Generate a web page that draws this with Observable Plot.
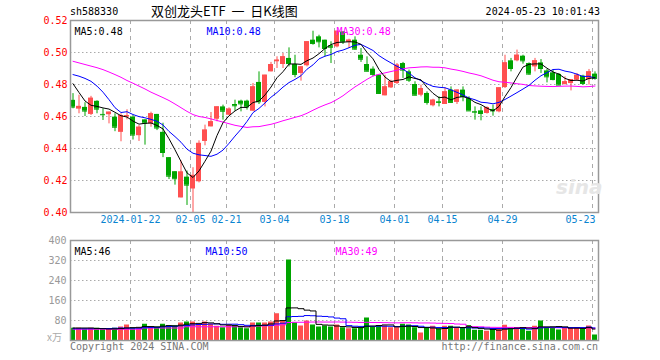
<!DOCTYPE html>
<html><head><meta charset="utf-8">
<script src="https://cdn.jsdelivr.net/npm/d3@7"></script>
<script src="https://cdn.jsdelivr.net/npm/@observablehq/plot@0.6"></script>
<style>
body{margin:0;background:#fff;}
#wrap{position:relative;width:660px;height:360px;overflow:hidden;font-family:"DejaVu Sans Mono",monospace;background:#fff;}
#wrap svg{position:absolute;left:0;}
.t{position:absolute;white-space:pre;font-size:10px;line-height:12px;}
</style></head><body>
<div id="wrap">
  <div class="t" style="left:70px;top:6px;color:#000;">sh588330</div>
  <div class="t" style="left:151px;top:3px;font-size:13px;line-height:16px;font-family:'Noto Sans CJK SC',sans-serif;color:#000;">双创龙头ETF  一  日K线图</div>
  <div class="t" style="right:60px;top:6px;color:#000;">2024-05-23 10:01:43</div>
  <div class="t" style="left:70px;top:341px;color:#777;">Copyright 2024 SINA.COM</div>
  <div class="t" style="right:62px;top:341px;color:#777;">http://finance.sina.com.cn</div>
  <div class="t" style="left:47px;top:331px;color:#aaa;font-family:'Noto Sans CJK SC',sans-serif;">x万</div>
  <div class="t" style="left:556px;top:176px;font-size:20px;line-height:22px;font-style:italic;font-weight:bold;color:#e6e6e6;font-family:'DejaVu Sans',sans-serif;">sina</div>
</div>
<script>
// ---- data ----
const opens = [.4701,.4646,.4657,.4613,.4695,.4613,.4611,.4596,.4501,.4596,
.4596,.4480,.4579,.4554,.4613,.4501,.4343,.4255,.4091,.4221,
.4147,.4192,.4444,.4535,.4583,.4660,.4608,.4675,.4696,.4696,
.4633,.4813,.4688,.4879,.4942,.4925,.4963,.4925,.4869,.4917,
.5077,.5098,.5077,.5042,.5035,.5129,.5063,.5077,.4983,.4925,
.4896,.4858,.4729,.4779,.4806,.4931,.4879,.4800,.4733,.4744,
.4667,.4692,.4675,.4765,.4688,.4765,.4713,.4631,.4635,.4619,
.4644,.4629,.4781,.4948,.4948,.4977,.4931,.4910,.4935,.4885,
.4873,.4863,.4800,.4806,.4827,.4852,.4831,.4865];
const highs = [.4743,.4733,.4686,.4726,.4698,.4648,.4627,.4617,.4617,.4642,
.4606,.4543,.4579,.4627,.4613,.4558,.4343,.4255,.4322,.4259,
.4280,.4448,.4546,.4625,.4660,.4671,.4654,.4702,.4702,.4702,
.4806,.4879,.4858,.4938,.4973,.4994,.5029,.4983,.4910,.5067,
.5133,.5108,.5077,.5067,.5133,.5129,.5083,.5098,.5025,.4973,
.4910,.4858,.4858,.4827,.4931,.4938,.4890,.4817,.4796,.4754,
.4708,.4723,.4779,.4785,.4765,.4785,.4723,.4660,.4660,.4660,
.4671,.4779,.4983,.4963,.5015,.4983,.4935,.4963,.4956,.4894,
.4890,.4869,.4848,.4831,.4869,.4858,.4894,.4879];
const lows = [.4648,.4617,.4600,.4606,.4617,.4575,.4554,.4505,.4442,.4579,
.4453,.4444,.4421,.4533,.4512,.4343,.4206,.4171,.4091,.4044,
.4000,.4185,.4417,.4535,.4567,.4577,.4604,.4633,.4629,.4640,
.4633,.4675,.4660,.4879,.4900,.4900,.4910,.4842,.4821,.4910,
.5046,.5029,.4973,.4931,.5029,.5050,.5025,.5015,.4938,.4879,
.4848,.4738,.4729,.4775,.4800,.4838,.4813,.4729,.4723,.4671,
.4660,.4660,.4675,.4681,.4675,.4692,.4635,.4577,.4573,.4615,
.4602,.4623,.4775,.4879,.4942,.4927,.4858,.4879,.4869,.4810,
.4823,.4796,.4796,.4760,.4823,.4796,.4796,.4827];
const closes = [.4659,.4663,.4634,.4714,.4646,.4611,.4627,.4533,.4606,.4606,
.4484,.4533,.4558,.4617,.4528,.4375,.4227,.4211,.4253,.4171,
.4232,.4432,.4515,.4567,.4660,.4633,.4646,.4667,.4679,.4660,
.4785,.4692,.4858,.4925,.4952,.4973,.4931,.4863,.4910,.5067,
.5056,.5067,.5025,.5033,.5133,.5067,.5077,.5021,.4958,.4883,
.4863,.4744,.4785,.4817,.4921,.4890,.4827,.4733,.4775,.4688,
.4702,.4688,.4754,.4688,.4765,.4725,.4635,.4627,.4619,.4656,
.4635,.4779,.4935,.4900,.4983,.4948,.4865,.4948,.4900,.4848,
.4831,.4796,.4817,.4831,.4858,.4806,.4879,.4838];
const volumes = [49,49,46,49,49,43,43,49,54,62,
49,49,65,54,54,65,59,59,70,74,
74,65,74,65,57,51,62,61,51,47,
70,70,70,74,107,78,322,71,58,78,
62,54,58,54,62,51,47,47,51,90,
54,58,58,51,51,65,62,51,30,50,
57,46,57,57,50,50,60,41,41,37,
42,46,61,50,50,50,37,57,78,51,
51,42,51,51,51,47,58,22];
// moving-average values before enough history exists
const ma5Head  = [.4805,.4750,.4697,.4670];
const ma10Head = [.4862,.4852,.4838,.4820,.4790,.4752,.4705,.4655,.4625];
const ma30Head = [.4945,.4935,.4925,.4915,.4905,.4893,.4878,.4862,.4845,.4825,
.4808,.4790,.4772,.4752,.4735,.4718,.4700,.4678,.4655,.4632,
.4612,.4600,.4594,.4585,.4575,.4565,.4555,.4545,.4538];
const vma5Head  = [50,50,50,50];
const vma10Head = [47,47,47,47,48,48,48,49,50];
const vma30Head = [45,45,45,45,45,45,45,45,45,45,45,45,50,50,50,50,50,50,50,55,55,55,55,55,55,55,55,55,55];
const tickIndex  = [10,20,26,34,44,54,62,72,87];
const tickLabels = ["2024-01-22","02-05","02-21","03-04","03-18","04-01","04-15","04-29","05-23"];
const priceTicks = [0.40,0.42,0.44,0.46,0.48,0.50,0.52];
const volTicks = [80,160,240,320,400];

// ---- derived ----
function movingAvg(vals, k, head){
  return vals.map((v,i)=> i < k-1 ? head[i] : d3.mean(vals.slice(i-k+1, i+1)));
}
const ma5 = movingAvg(closes,5,ma5Head), ma10 = movingAvg(closes,10,ma10Head), ma30 = movingAvg(closes,30,ma30Head);
const vma5 = movingAvg(volumes,5,vma5Head), vma10 = movingAvg(volumes,10,vma10Head), vma30 = movingAvg(volumes,30,vma30Head);
const RED="#ff5050", GREEN="#00a400", BLUE="#0000ff", MAG="#ff00ff";
const data = closes.map((c,i)=>({i, o:opens[i], h:highs[i], l:lows[i], c, v:volumes[i],
  col: c>=opens[i]?RED:GREEN, ma5:ma5[i], ma10:ma10[i], ma30:ma30[i], vma5:vma5[i], vma10:vma10[i], vma30:vma30[i]}));
const ticks = tickIndex.map((i,k)=>({i, label:tickLabels[k]}));
const N = closes.length;
const cx = d => d.i + 5/12;
const last = data[N-1];
const FONT = "DejaVu Sans Mono";

const price = Plot.plot({
  width:660, height:230, marginLeft:70, marginRight:62, marginTop:20, marginBottom:18,
  style:{fontFamily:FONT, fontSize:"10px", background:"transparent"},
  x:{type:"linear", domain:[0,N], axis:null},
  y:{domain:[0.40,0.52], axis:null},
  color:{type:"identity"},
  marks:[
    Plot.ruleY(priceTicks.slice(1,-1), {stroke:"#aaa", strokeDasharray:"1.5,2.5"}),
    Plot.ruleX(tickIndex, {stroke:"#aaa", strokeDasharray:"4,4"}),
    Plot.ruleX(data, {x:cx, y1:"l", y2:"h", stroke:"col"}),
    Plot.rectY(data, {x1:"i", x2:d=>d.i+5/6, y1:"o", y2:"c", fill:"col"}),
    Plot.ruleY(data, {x1:"i", x2:d=>d.i+5/6, y:"c", stroke:"col"}),
    Plot.line(data, {x:cx, y:"ma30", stroke:MAG, strokeWidth:1}),
    Plot.line(data, {x:cx, y:"ma10", stroke:BLUE, strokeWidth:1}),
    Plot.line(data, {x:cx, y:"ma5", stroke:"#000", strokeWidth:1}),
    Plot.frame({stroke:"#999", strokeWidth:1.5}),
    Plot.text(priceTicks, {y:d=>d, text:d=>d.toFixed(2), frameAnchor:"left", dx:-3, textAnchor:"end", fill:"#ff0000"}),
    Plot.text(ticks.slice(0,-1), {x:"i", text:"label", frameAnchor:"bottom", dy:10, fill:"#0a84d0"}),
    Plot.text(ticks.slice(-1), {x:"i", text:"label", frameAnchor:"bottom", dy:10, dx:3, textAnchor:"end", fill:"#0a84d0"}),
    Plot.text([last], {text:d=>"MA5:"+d.ma5.toFixed(2), frameAnchor:"top-left", dx:4, dy:7, textAnchor:"start", fill:"#000"}),
    Plot.text([last], {text:d=>"MA10:"+d.ma10.toFixed(2), frameAnchor:"top-left", dx:136, dy:7, textAnchor:"start", fill:BLUE}),
    Plot.text([last], {text:d=>"MA30:"+d.ma30.toFixed(2), frameAnchor:"top-left", dx:266, dy:7, textAnchor:"start", fill:MAG})
  ]
});
price.style.top = "0px";

const vol = Plot.plot({
  width:660, height:130, marginLeft:70, marginRight:62, marginTop:10, marginBottom:20,
  style:{fontFamily:FONT, fontSize:"10px", background:"transparent"},
  x:{type:"linear", domain:[0,N], axis:null},
  y:{domain:[0,400], axis:null},
  color:{type:"identity"},
  marks:[
    Plot.ruleY(volTicks.slice(0,-1), {stroke:"#aaa", strokeDasharray:"1.5,2.5"}),
    Plot.ruleX(tickIndex, {stroke:"#aaa", strokeDasharray:"4,4"}),
    Plot.rectY(data, {x1:"i", x2:d=>d.i+5/6, y1:0, y2:"v", fill:"col"}),
    Plot.line(data, {x:cx, y:"vma30", stroke:MAG, strokeWidth:1, curve:"step"}),
    Plot.line(data, {x:cx, y:"vma10", stroke:BLUE, strokeWidth:1, curve:"step"}),
    Plot.line(data, {x:cx, y:"vma5", stroke:"#000", strokeWidth:1, curve:"step"}),
    Plot.frame({stroke:"#999", strokeWidth:1.5}),
    Plot.text(volTicks, {y:d=>d, text:d=>String(d), frameAnchor:"left", dx:-4, textAnchor:"end", fill:"#999"}),
    Plot.text([last], {text:d=>"MA5:"+Math.round(d.vma5), frameAnchor:"top-left", dx:4, dy:7, textAnchor:"start", fill:"#000"}),
    Plot.text([last], {text:d=>"MA10:"+Math.round(d.vma10), frameAnchor:"top-left", dx:135, dy:7, textAnchor:"start", fill:BLUE}),
    Plot.text([last], {text:d=>"MA30:"+Math.round(d.vma30), frameAnchor:"top-left", dx:265, dy:7, textAnchor:"start", fill:MAG})
  ]
});
vol.style.top = "230px";
const wrap = document.getElementById("wrap");
wrap.insertBefore(vol, wrap.firstChild);
wrap.insertBefore(price, wrap.firstChild);
</script>
</body></html>
